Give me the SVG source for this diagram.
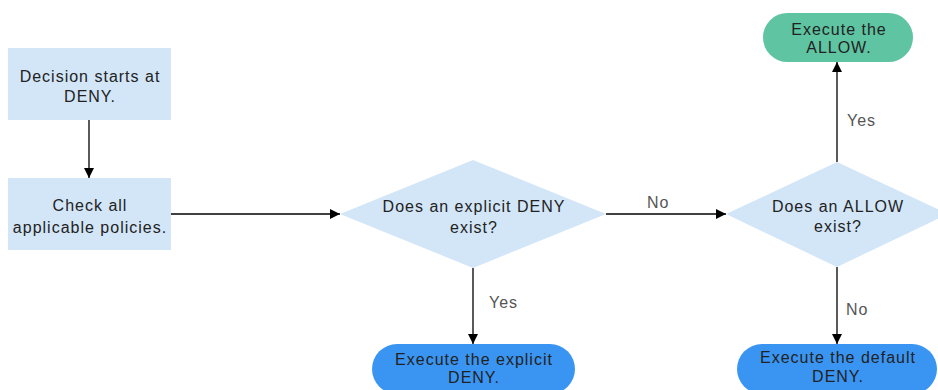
<svg xmlns="http://www.w3.org/2000/svg" width="938" height="390" viewBox="0 0 938 390">
  <style>
    .box { fill: #d3e6f8; }
    .dia { fill: #d3e6f8; }
    .deny { fill: #3a95f2; }
    .allow { fill: #5ec4a1; }
    .t { font-family: "Liberation Sans", Arial, sans-serif; font-size: 16px; letter-spacing: 1px; fill: #222; text-anchor: middle; }
    .lbl { font-family: "Liberation Sans", Arial, sans-serif; font-size: 16px; letter-spacing: 1px; fill: #555; }
    .edge { stroke: #000; stroke-width: 1.3; fill: none; marker-end: url(#arr); }
  </style>
  <defs>
    <marker id="arr" viewBox="0 0 10 10" refX="10" refY="5" markerWidth="10" markerHeight="10" markerUnits="userSpaceOnUse" orient="auto">
      <path d="M0,0 L10,5 L0,10 z" fill="#000"/>
    </marker>
  </defs>
  <rect width="938" height="390" fill="#fff"/>

  <g id="connectors">
    <path class="edge" d="M89,120 V178"/>
    <path class="edge" d="M171,214 H340"/>
    <path class="edge" d="M606,214 H726"/>
    <path class="edge" d="M473,268 V344"/>
    <path class="edge" d="M837,162 V62"/>
    <path class="edge" d="M837,267 V344"/>
    <text class="lbl" x="647" y="208">No</text>
    <text class="lbl" x="489" y="308">Yes</text>
    <text class="lbl" x="847" y="126">Yes</text>
    <text class="lbl" x="846" y="315">No</text>
  </g>

  <g id="start">
    <rect class="box" x="8" y="48" width="163" height="72"/>
    <text class="t" x="90" y="82">Decision starts at</text>
    <text class="t" x="90" y="102">DENY.</text>
  </g>

  <g id="check">
    <rect class="box" x="8" y="178" width="163" height="72"/>
    <text class="t" x="90" y="211">Check all</text>
    <text class="t" x="90" y="233">applicable policies.</text>
  </g>

  <g id="explicit-deny-check">
    <polygon class="dia" points="340,214 473,160 606,214 473,268"/>
    <text class="t" x="474" y="212">Does an explicit DENY</text>
    <text class="t" x="474" y="233">exist?</text>
  </g>

  <g id="allow-check">
    <polygon class="dia" points="726,214 837,162 948,214 837,267"/>
    <text class="t" x="838" y="212">Does an ALLOW</text>
    <text class="t" x="838" y="232">exist?</text>
  </g>

  <g id="execute-allow">
    <rect class="allow" x="763" y="13" width="150" height="49" rx="24.5"/>
    <text class="t" x="839" y="35">Execute the</text>
    <text class="t" x="839" y="53">ALLOW.</text>
  </g>

  <g id="execute-explicit-deny">
    <rect class="deny" x="372" y="344" width="203" height="50" rx="25"/>
    <text class="t" x="474" y="365">Execute the explicit</text>
    <text class="t" x="474" y="383">DENY.</text>
  </g>

  <g id="execute-default-deny">
    <rect class="deny" x="737" y="344" width="200" height="50" rx="25"/>
    <text class="t" x="838" y="363">Execute the default</text>
    <text class="t" x="838" y="382">DENY.</text>
  </g>
</svg>
